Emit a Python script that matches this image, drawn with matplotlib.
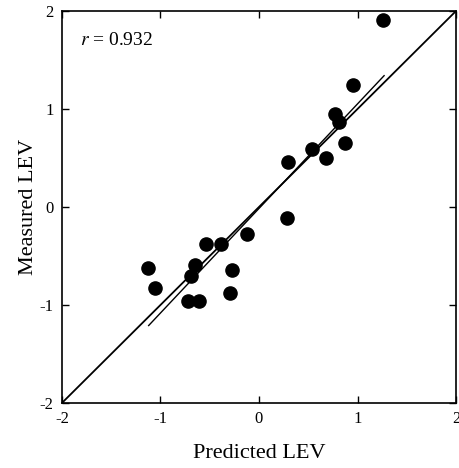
import matplotlib
matplotlib.use('Agg')
import matplotlib.pyplot as plt
from matplotlib.ticker import FuncFormatter

# valores
predito = [1.26, 0.95, 0.77, 0.81, 0.87, 0.68, 0.54, 0.29,
           0.28, -0.12, -0.54, -0.39, -0.65, -0.69, -1.13, -1.06,
           -0.27, -0.29, -0.72, -0.61]
medido = [1.91, 1.245, 0.95, 0.87, 0.65, 0.50, 0.595, 0.46,
          -0.115, -0.28, -0.38, -0.38, -0.59, -0.70, -0.62, -0.83,
          -0.64, -0.88, -0.955, -0.955]
reta_x = [-1.12, 1.27]
reta_y = [-1.21, 1.34]
identidade = [-2, 2]
ticks = [-2, -1, 0, 1, 2]

plt.rcParams['font.family'] = ['Liberation Serif', 'DejaVu Serif']
plt.rcParams['mathtext.fontset'] = 'stix'

fig = plt.figure(figsize=(4.59, 4.68), dpi=100)
ax = fig.add_axes([0.135, 0.139, 0.8585, 0.8375])

ax.plot(identidade, identidade, color='black', lw=1.3)
ax.plot(reta_x, reta_y, color='black', lw=1.0)
ax.scatter(predito, medido, s=90, color='black', zorder=3)

ax.set_xlim(-2, 2)
ax.set_ylim(-2, 2)
ax.set_xticks(ticks)
ax.set_yticks(ticks)
fmt = FuncFormatter(lambda v, p: str(int(v)))
ax.xaxis.set_major_formatter(fmt)
ax.yaxis.set_major_formatter(fmt)
ax.tick_params(direction='in', length=5, width=1, top=True, right=True,
               labelsize=12, pad=6)
for s in ax.spines.values():
    s.set_linewidth(1.2)

ax.set_xlabel('Predicted LEV', fontsize=16, labelpad=12)
ax.set_ylabel('Measured LEV', fontsize=16, labelpad=1)
ax.text(0.045, 0.925, r'$r$ = 0.932', transform=ax.transAxes,
        fontsize=14, va='center')

fig.savefig('out.png', dpi=100)
